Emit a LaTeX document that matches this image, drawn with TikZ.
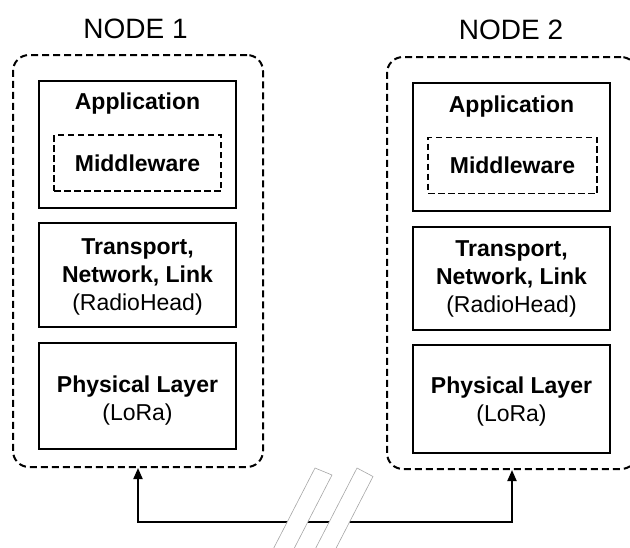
\documentclass[tikz,border=0pt]{standalone}
\usepackage{fontspec}
\setmainfont{Liberation Sans}
\usetikzlibrary{arrows.meta}
\begin{document}
\begin{tikzpicture}[x=1pt,y=-1pt,
  layerbox/.style={draw=black, line width=2pt, minimum width=197pt, inner sep=0pt},
  outerbox/.style={draw=black, line width=2pt, dash pattern=on 7pt off 4pt, rounded corners=16pt, minimum width=250pt, minimum height=412pt, inner sep=0pt},
  mwbox/.style={draw=black, line width=1.8pt, dash pattern=on 6.5pt off 3.5pt, inner sep=0pt, font=\txt},
  lbl/.style={font=\txt, anchor=base, inner sep=0pt, align=center},
  title/.style={font=\fontsize{28}{32}\selectfont, anchor=base, inner sep=0pt},
  link/.style={line width=2pt, {Triangle[width=9pt,length=11pt]}-{Triangle[width=9pt,length=11pt]}},
  breakmark/.style={draw=black!35, line width=0.6pt, fill=white}
]
\newcommand{\txt}{\fontsize{23}{28}\selectfont}
\useasboundingbox (0,0) rectangle (630,547);
% Node 1
\node[title] (t1) at (135.5,38) {NODE 1};
\node[outerbox] (n1) at (138,261) {};
\node[layerbox, minimum height=127pt] (app1) at (137.5,144.5) {};
\node[lbl] (appl1) at (137.5,109) {\bfseries Application};
\node[mwbox, minimum width=167pt, minimum height=56pt] (mw1) at (137.5,163) {\bfseries Middleware};
\node[layerbox, minimum height=104pt] (tr1) at (137.5,275) {};
\node[lbl] (trl1) at (137.5,310) {\bfseries Transport,\\ \bfseries Network, Link\\ (RadioHead)};
\node[layerbox, minimum height=106pt] (ph1) at (137.5,396) {};
\node[lbl] (phl1) at (137.5,420) {\bfseries Physical Layer\\ (LoRa)};
% Node 2
\node[title] (t2) at (511,39) {NODE 2};
\node[outerbox] (n2) at (512,263) {};
\node[layerbox, minimum height=128pt] (app2) at (511.5,147) {};
\node[lbl] (appl2) at (511.5,112) {\bfseries Application};
\node[mwbox, minimum width=169pt, minimum height=56pt] (mw2) at (512.5,165.5) {\bfseries Middleware};
\node[layerbox, minimum height=103pt] (tr2) at (511.5,278.5) {};
\node[lbl] (trl2) at (511.5,312.5) {\bfseries Transport,\\ \bfseries Network, Link\\ (RadioHead)};
\node[layerbox, minimum height=108pt] (ph2) at (511.5,399) {};
\node[lbl] (phl2) at (511.5,421) {\bfseries Physical Layer\\ (LoRa)};
% Link
\draw[link] (n1.south) -- ++(0,54) coordinate (c1) -| (n2.south);
% break mark
\draw[breakmark] (315,468) -- (332,475) -- (286.2,563.9) -- (269.2,556.9) -- cycle;
\draw[breakmark] (357,468) -- (373,476.5) -- (327.2,565.4) -- (311.2,556.9) -- cycle;
\end{tikzpicture}
\end{document}
